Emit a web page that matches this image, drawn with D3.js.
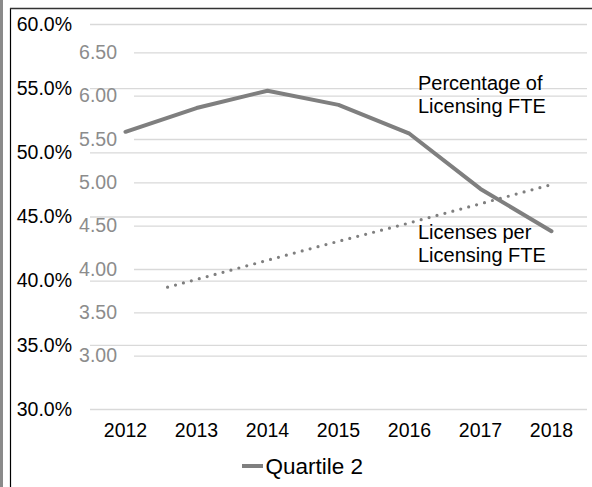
<!DOCTYPE html>
<html>
<head>
<meta charset="utf-8">
<script src="https://cdn.jsdelivr.net/npm/d3@7"></script>
<style>
  html, body { margin: 0; padding: 0; background: #fff; }
  svg { display: block; }
  text { font-family: "Liberation Sans", Arial, sans-serif; }
</style>
</head>
<body>
<svg id="chart" width="592" height="487"></svg>
<script>
// Years on the category axis
const years = [2012, 2013, 2014, 2015, 2016, 2017, 2018];
// Percentage of licensing FTE, Quartile 2
const pctValues = [0.516, 0.5345, 0.548, 0.537, 0.5145, 0.4715, 0.4385];
// Licenses per licensing FTE (trend), 2013–2018
const licYears = [2013, 2014, 2015, 2016, 2017, 2018];
const licValues = [3.79, 4.03, 4.27, 4.50, 4.74, 4.98];
// Axis ticks
const pctTicks = [0.30, 0.35, 0.40, 0.45, 0.50, 0.55, 0.60];
const licTicks = [3.00, 3.50, 4.00, 4.50, 5.00, 5.50, 6.00, 6.50];
const seriesName = "Quartile 2";

const svg = d3.select("#chart");
const AXIS_FONT = 19.5;
const NOTE_FONT = 20;
const LINE = "#7f7f7f";
const GRID = "#d9d9d9";

// Frame
svg.append("rect").attr("x", 0).attr("y", 0).attr("width", 3).attr("height", 487).attr("fill", "#8a8a8a");
svg.append("line").attr("x1", 10.5).attr("x2", 10.5).attr("y1", 8).attr("y2", 487)
  .attr("stroke", "#000").attr("stroke-width", 1.2);
svg.append("line").attr("x1", 10).attr("x2", 592).attr("y1", 8.5).attr("y2", 8.5)
  .attr("stroke", "#333").attr("stroke-width", 1.4);

// Scales
const x = d3.scaleBand().domain(years).range([90, 587]);
const xLic = d3.scaleBand().domain(licYears).range([129, 592]);
const yPct = d3.scaleLinear().domain([0.30, 0.60]).range([409, 24]);
const yLic = d3.scaleLinear().domain([3.0, 6.5]).range([355.7, 52.3]);

// Gridlines, percentage axis
const gPctAxis = svg.append("g").attr("transform", "translate(90,0)")
  .call(d3.axisLeft(yPct).tickValues(pctTicks).tickSize(-497).tickPadding(18)
    .tickFormat(d3.format(".1%")));
gPctAxis.select(".domain").remove();
gPctAxis.selectAll(".tick line").attr("stroke", GRID).attr("stroke-width", 1.3);
gPctAxis.selectAll(".tick text").attr("fill", "#000").attr("font-size", AXIS_FONT)
  .attr("font-family", "Liberation Sans, Arial, sans-serif");

// Gridlines, licenses axis
const gLicAxis = svg.append("g").attr("transform", "translate(134,0)")
  .call(d3.axisLeft(yLic).tickValues(licTicks).tickSize(-453).tickPadding(17)
    .tickFormat(d3.format(".2f")));
gLicAxis.select(".domain").remove();
gLicAxis.selectAll(".tick line").attr("stroke", GRID).attr("stroke-width", 1.3);
gLicAxis.selectAll(".tick text").attr("fill", "#8c8c8c").attr("font-size", AXIS_FONT)
  .attr("font-family", "Liberation Sans, Arial, sans-serif");

// Category axis
const gX = svg.append("g").attr("transform", "translate(0,409)")
  .call(d3.axisBottom(x).tickSize(0).tickPadding(14));
gX.select(".domain").remove();
gX.selectAll(".tick text").attr("fill", "#000").attr("font-size", AXIS_FONT)
  .attr("font-family", "Liberation Sans, Arial, sans-serif");

// Licenses per FTE, dotted
svg.append("path")
  .datum(licYears.map((yr, i) => [yr, licValues[i]]))
  .attr("fill", "none").attr("stroke", LINE).attr("stroke-width", 3.2)
  .attr("stroke-linecap", "round").attr("stroke-dasharray", "0 8.2")
  .attr("d", d3.line().x(d => xLic(d[0]) + xLic.bandwidth() / 2).y(d => yLic(d[1])));

// Percentage of licensing FTE, solid
svg.append("path")
  .datum(years.map((yr, i) => [yr, pctValues[i]]))
  .attr("fill", "none").attr("stroke", LINE).attr("stroke-width", 4)
  .attr("stroke-linecap", "round").attr("stroke-linejoin", "round")
  .attr("d", d3.line().x(d => x(d[0]) + x.bandwidth() / 2).y(d => yPct(d[1])));

// Series annotations
const notes = [
  { lines: ["Percentage of", "Licensing FTE"], x: 418, y: 90 },
  { lines: ["Licenses per", "Licensing FTE"], x: 418, y: 239 }
];
notes.forEach(n => {
  n.lines.forEach((t, i) => {
    svg.append("text").attr("x", n.x).attr("y", n.y + i * 23)
      .attr("font-size", NOTE_FONT).attr("fill", "#000").text(t);
  });
});

// Legend
svg.append("line").attr("x1", 242).attr("x2", 263).attr("y1", 466).attr("y2", 466)
  .attr("stroke", LINE).attr("stroke-width", 4);
svg.append("text").attr("x", 265.5).attr("y", 473.5).attr("font-size", 22.5)
  .attr("fill", "#000").text(seriesName);
</script>
</body>
</html>
